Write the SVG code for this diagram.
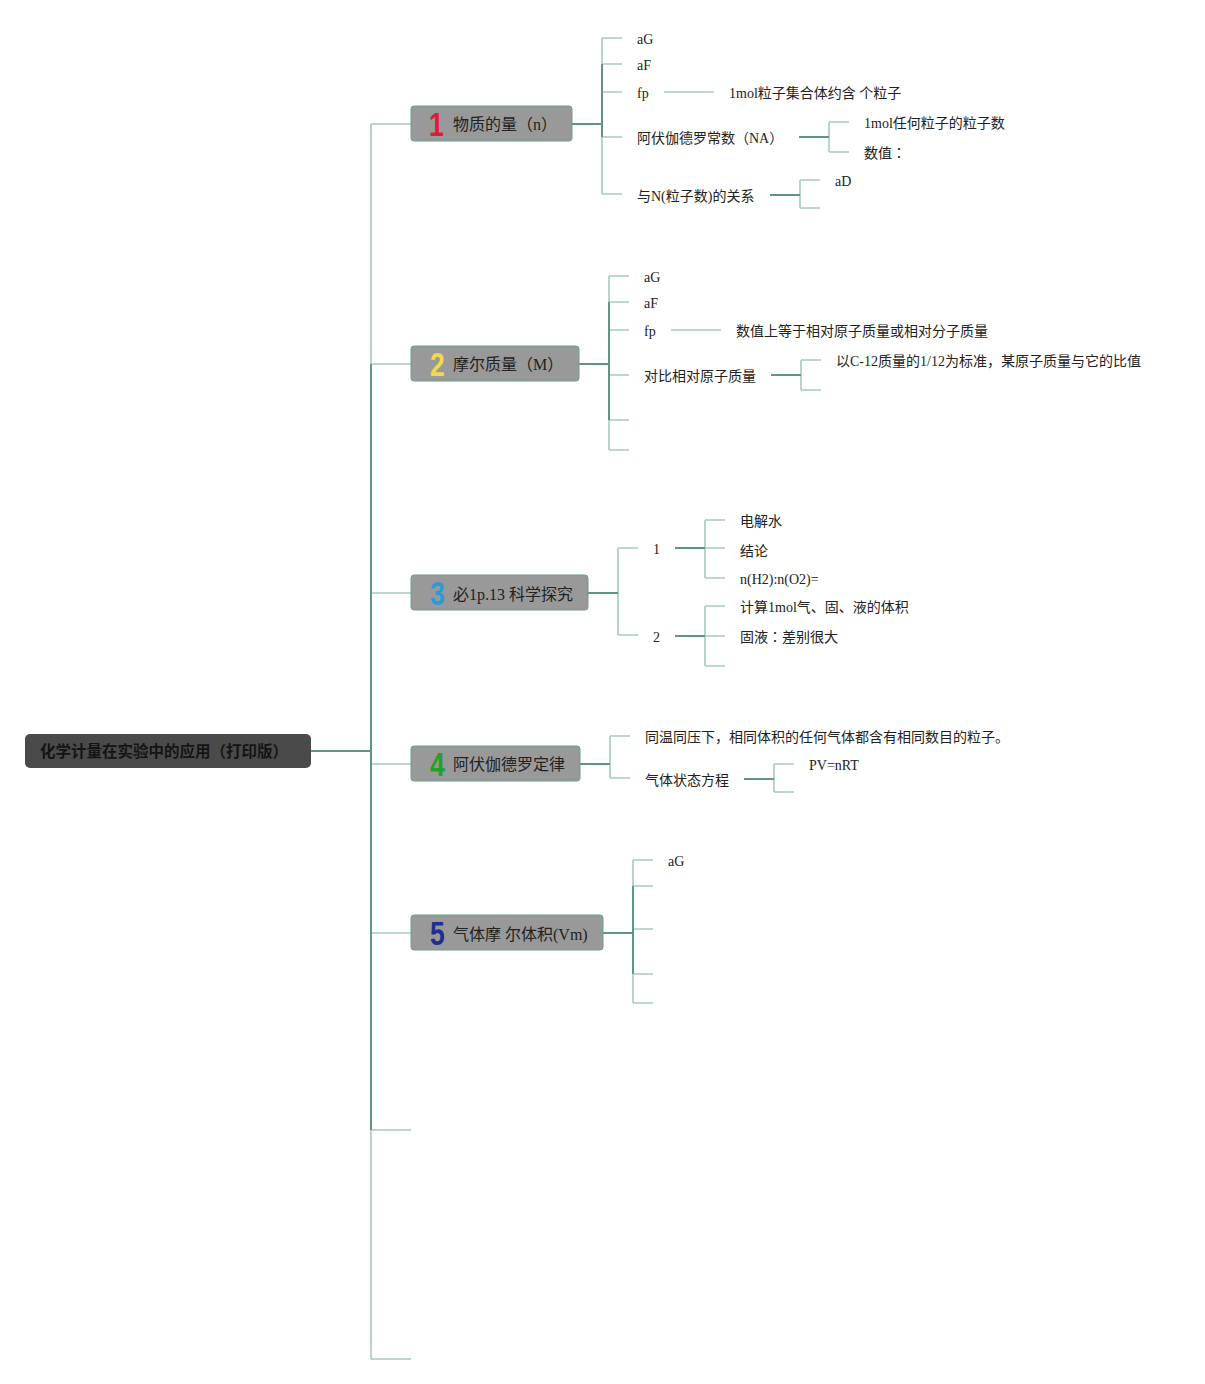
<svg xmlns="http://www.w3.org/2000/svg" width="1205" height="1384" viewBox="0 0 1205 1384">
<style>
.d{stroke:#5f9585;stroke-width:2;fill:none}
.l{stroke:#a9cabf;stroke-width:1.6;fill:none}
.t{font-family:"Liberation Serif","Noto Sans CJK SC",serif;font-size:14px;fill:#222}
.tj{font-family:"Liberation Serif","Noto Sans CJK JP",serif;font-size:14px;fill:#222}
.nt{font-family:"Liberation Serif","Noto Sans CJK SC",serif;font-size:16px;fill:#222}
.num{font-family:"Liberation Sans","DejaVu Sans",sans-serif;font-weight:bold;font-size:34px}
.box{fill:#999999;stroke:#6b9d8d;stroke-width:1}
</style>
<rect width="1205" height="1384" fill="#ffffff"/>
<g id="connectors">
<path class="l" d="M371 124V1359M371 124H411M371 364H411M371 593H411M371 764H411M371 933H411M371 1130H411M371 1359H411"/>
<path class="d" d="M371 364V1130M311 751H371"/>
<path class="l" d="M602 38V194M602 38H622M602 64H622M602 92H622M602 137H622M602 194H622M664 92H714"/>
<path class="d" d="M572 124H602M602 64V137"/>
<path class="l" d="M829 122V152M829 122H849M829 152H849"/>
<path class="d" d="M799 137H829"/>
<path class="l" d="M800 180V208M800 180H820M800 208H820"/>
<path class="d" d="M770 195H800"/>
<path class="l" d="M609 276V450M609 276H629M609 302H629M609 330H629M609 375H629M609 420H629M609 450H629M671 330H721"/>
<path class="d" d="M579 364H609M609 302V420"/>
<path class="l" d="M801 360V390M801 360H821M801 390H821"/>
<path class="d" d="M771 375H801"/>
<path class="l" d="M618 548V635M618 548H638M618 635H638"/>
<path class="d" d="M588 593H618"/>
<path class="l" d="M705 520V578M705 520H725M705 548H725M705 578H725"/>
<path class="d" d="M675 548H705"/>
<path class="l" d="M705 606V666M705 606H725M705 636H725M705 666H725"/>
<path class="d" d="M675 636H705"/>
<path class="l" d="M610 736V778M610 736H630M610 778H630"/>
<path class="d" d="M580 764H610"/>
<path class="l" d="M774 764V792M774 764H794M774 792H794"/>
<path class="d" d="M744 779H774"/>
<path class="l" d="M633 860V1003M633 860H653M633 886H653M633 929H653M633 974H653M633 1003H653"/>
<path class="d" d="M603 933H633M633 886V974"/>
</g>
<g id="root">
<rect x="25" y="734" width="286" height="34" rx="5" fill="#4a4a4a"/>
<text x="40" y="757" font-family="'Noto Sans CJK SC',sans-serif" font-weight="bold" font-size="15.5" fill="#141414">化学计量在实验中的应用（打印版）</text>
</g>
<g id="node1">
<rect class="box" x="411" y="106" width="161" height="35" rx="3"/>
<text class="num" transform="translate(429 136) scale(0.78 1)" fill="#dd1c3a">1</text>
<text class="nt" x="453" y="130">物质的量（n）</text>
</g>
<g id="node2">
<rect class="box" x="411" y="346" width="168" height="35" rx="3"/>
<text class="num" transform="translate(430 376) scale(0.78 1)" fill="#f2da4e">2</text>
<text class="nt" x="453" y="370">摩尔质量（M）</text>
</g>
<g id="node3">
<rect class="box" x="411" y="575" width="177" height="35" rx="3"/>
<text class="num" transform="translate(430 605) scale(0.78 1)" fill="#2d9ad8">3</text>
<text class="nt" x="453" y="600">必1p.13 科学探究</text>
</g>
<g id="node4">
<rect class="box" x="411" y="746" width="169" height="35" rx="3"/>
<text class="num" transform="translate(430 776) scale(0.78 1)" fill="#22a02a">4</text>
<text class="nt" x="453" y="770">阿伏伽德罗定律</text>
</g>
<g id="node5">
<rect class="box" x="411" y="915" width="192" height="35" rx="3"/>
<text class="num" transform="translate(430 945) scale(0.78 1)" fill="#1f2f8c">5</text>
<text class="nt" x="453" y="940">气体摩 尔体积(Vm)</text>
</g>
<g id="leaves1">
<text class="t" x="637" y="44">aG</text>
<text class="t" x="637" y="70">aF</text>
<text class="t" x="637" y="98">fp</text>
<text class="t" x="729" y="98">1mol粒子集合体约含 个粒子</text>
<text class="t" x="637" y="143">阿伏伽德罗常数（NA）</text>
<text class="t" x="864" y="128">1mol任何粒子的粒子数</text>
<text class="tj" x="864" y="158">数值：</text>
<text class="t" x="637" y="201">与N(粒子数)的关系</text>
<text class="t" x="835" y="186">aD</text>
</g>
<g id="leaves2">
<text class="t" x="644" y="282">aG</text>
<text class="t" x="644" y="308">aF</text>
<text class="t" x="644" y="336">fp</text>
<text class="t" x="736" y="336">数值上等于相对原子质量或相对分子质量</text>
<text class="t" x="644" y="381">对比相对原子质量</text>
<text class="t" x="836" y="366">以C-12质量的1/12为标准，某原子质量与它的比值</text>
</g>
<g id="leaves3">
<text class="t" x="653" y="554">1</text>
<text class="t" x="653" y="642">2</text>
<text class="t" x="740" y="526">电解水</text>
<text class="t" x="740" y="556">结论</text>
<text class="t" x="740" y="584">n(H2):n(O2)=</text>
<text class="t" x="740" y="612">计算1mol气、固、液的体积</text>
<text class="tj" x="740" y="642">固液：差别很大</text>
</g>
<g id="leaves4">
<text class="t" x="645" y="742">同温同压下，相同体积的任何气体都含有相同数目的粒子。</text>
<text class="t" x="645" y="785">气体状态方程</text>
<text class="t" x="809" y="770">PV=nRT</text>
</g>
<g id="leaves5">
<text class="t" x="668" y="866">aG</text>
</g>
</svg>
